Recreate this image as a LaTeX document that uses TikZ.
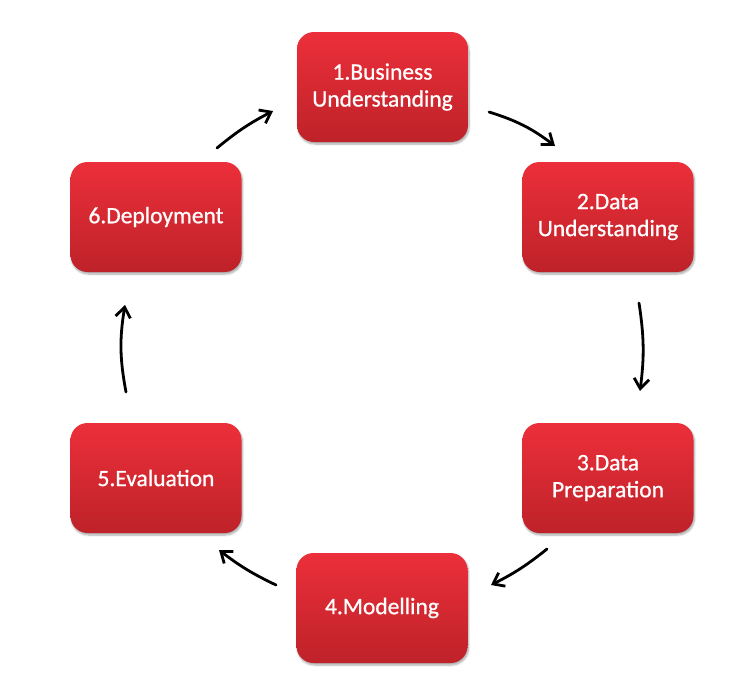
\documentclass[tikz,border=0pt]{standalone}
\usepackage{fontspec}
\setmainfont{Carlito}
\newfontfamily\stagefont{Carlito}[BoldFont=Carlito, BoldFeatures={FakeBold=0.8}]
\usetikzlibrary{arrows.meta,shadows.blur}
\definecolor{redtop}{HTML}{EC2F3A}
\definecolor{redbot}{HTML}{BE2229}
\tikzset{
  stage/.style={rounded corners=17pt, minimum width=171pt, minimum height=110pt,
    top color=redtop, bottom color=redbot, draw=none, text=white, align=center,
    font=\stagefont\bfseries\fontsize{23.5}{27}\selectfont, blur shadow={shadow xshift=1pt,shadow yshift=-2pt,shadow blur steps=6,shadow opacity=35}},
  arr/.style={line width=2.8pt, line cap=round, -{Straight Barb[length=10pt,width=15pt,line width=2.8pt]}}
}
\begin{document}
\begin{tikzpicture}[x=1pt,y=-1pt]
\useasboundingbox (0,0) rectangle (750,678);
\node[stage] (s1) at (382.5,87) {1.Business\\Understanding};
\node[stage] (s2) at (608,217) {2.Data\\Understanding};
\node[stage] (s3) at (608,478) {3.Data\\Preparation};
\node[stage] (s4) at (382,608) {4.Modelling};
\node[stage] (s5) at (156,478) {5.Evaluation};
\node[stage] (s6) at (156,217) {6.Deployment};
\coordinate (a1s) at (489,112); \coordinate (a1e) at (555,146);
\coordinate (a2s) at (639,303); \coordinate (a2e) at (640,391);
\coordinate (a3s) at (547,549); \coordinate (a3e) at (491,585);
\coordinate (a4s) at (276,585); \coordinate (a4e) at (219,550);
\coordinate (a5s) at (126,392); \coordinate (a5e) at (125,305);
\coordinate (a6s) at (217,148); \coordinate (a6e) at (273,111);
\draw[arr] (a1s) to[bend left=10] (a1e);
\draw[arr] (a2s) to[bend left=8] (a2e);
\draw[arr] (a3s) to[bend left=6] (a3e);
\draw[arr] (a4s) to[bend left=6] (a4e);
\draw[arr] (a5s) to[bend left=10] (a5e);
\draw[arr] (a6s) to[bend left=6] (a6e);
\end{tikzpicture}
\end{document}
